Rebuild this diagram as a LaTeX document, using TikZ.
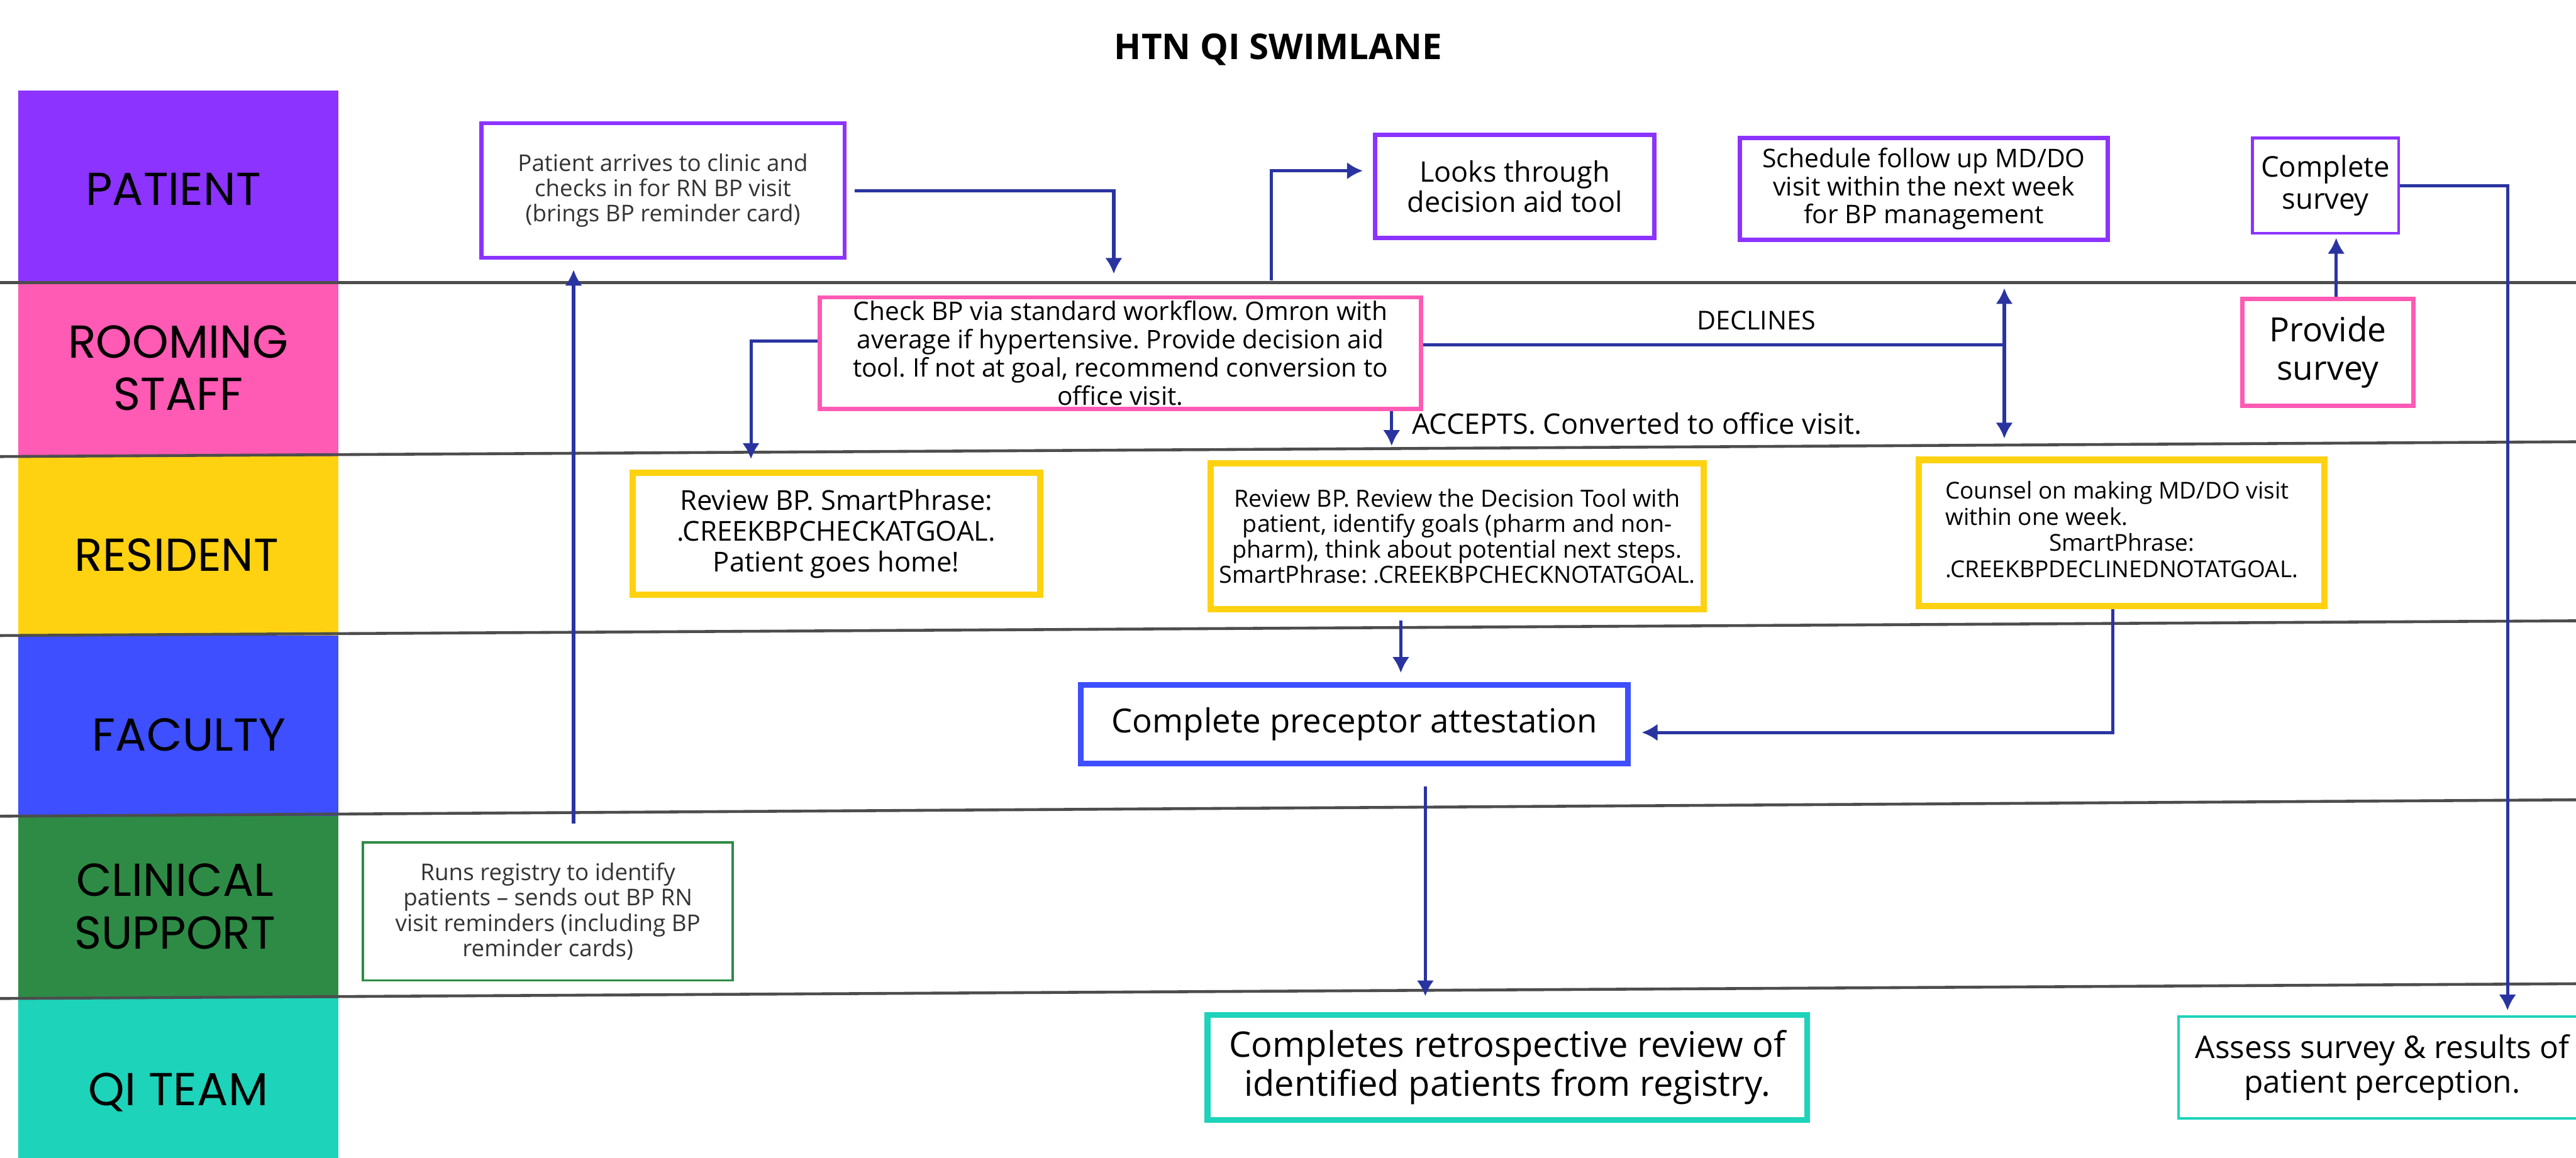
\documentclass[tikz,border=0pt]{standalone}
\usepackage{fontspec}
\setmainfont{Open Sans}
\newfontfamily\lanefont{Poppins}
\usetikzlibrary{calc, arrows.meta}

\definecolor{patientc}{HTML}{8C33FF}
\definecolor{roomc}{HTML}{FF5AB4}
\definecolor{resc}{HTML}{FFD211}
\definecolor{facc}{HTML}{3D4FFF}
\definecolor{clinc}{HTML}{2E8B46}
\definecolor{qic}{HTML}{1DD3BA}
\definecolor{flowc}{HTML}{2A34A0}
\definecolor{lanec}{HTML}{4D4D4D}

\newcommand{\fsz}[2]{\fontsize{#1}{#2}\selectfont}
\frenchspacing

\begin{document}
\begin{tikzpicture}
	\tikzstyle{lane}=[font=\lanefont\fsz{16}{18.2}, align=center, inner sep=0pt]
	\tikzstyle{task}=[rectangle, draw, fill=white, align=center, inner sep=0pt]
	\tikzstyle{flow}=[->, >={Latex[length=5.5pt,width=6pt]}, line width=1.1pt, draw=flowc]
	\tikzstyle{laneline}=[line width=1pt, draw=lanec]

	\useasboundingbox (0,0) rectangle (31.36,-14.1);
	\clip (0,0) rectangle (31.36,-14.1);

	% lane headers
	\fill[patientc] (0.22,-1.10) rectangle (4.12,-3.44);
	\fill[roomc] (0.22,-3.44) rectangle (4.12,-5.56);
	\fill[resc] (0.22,-5.56) rectangle (4.12,-7.74);
	\fill[facc] (0.22,-7.74) rectangle (4.12,-9.94);
	\fill[clinc] (0.22,-9.94) rectangle (4.12,-12.16);
	\fill[qic] (0.22,-12.16) rectangle (4.12,-14.5);

	\node[lane] (lpatient) at (2.11,-2.30) {PATIENT};
	\node[lane] (lrooming) at (2.17,-4.48) {ROOMING\\STAFF};
	\node[lane] (lresident) at (2.15,-6.76) {RESIDENT};
	\node[lane] (lfaculty) at (2.30,-8.95) {FACULTY};
	\node[lane] (lclinical) at (2.13,-11.04) {CLINICAL\\SUPPORT};
	\node[lane] (lqi) at (2.17,-13.30) {QI TEAM};

	\draw[laneline] (0,-3.44) -- (31.36,-3.44);
	\draw[laneline] (0,-5.56) -- (31.36,-5.38);
	\draw[laneline] (0,-7.74) -- (31.36,-7.56);
	\draw[laneline] (0,-9.94) -- (31.36,-9.74);
	\draw[laneline] (0,-12.16) -- (31.36,-11.98);

	\node[font=\bfseries\fsz{12.3}{14}] (title) at (15.56,-0.60) {HTN QI SWIMLANE};

	% patient
	\node[task, draw=patientc, line width=1.4pt, minimum width=4.42cm,
		minimum height=1.64cm, font=\fsz{8}{8.8}, text=black!80] (arrive)
		at (8.07,-2.32) {Patient arrives to clinic and\\checks in for RN BP
		visit\\(brings BP reminder card)};
	\node[task, draw=patientc, line width=1.6pt, minimum width=3.40cm,
		minimum height=1.26cm, font=\fsz{9.8}{10.3}] (aidtool)
		at (18.44,-2.27) {Looks through\\decision aid tool};
	\node[task, draw=patientc, line width=1.6pt, minimum width=4.48cm,
		minimum height=1.24cm, font=\fsz{8.9}{9.7}] (schedule)
		at (23.42,-2.30) {Schedule follow up MD/DO\\visit within the next
		week\\for BP management};
	\node[task, draw=patientc, line width=0.9pt, minimum width=1.78cm,
		minimum height=1.16cm, font=\fsz{9.9}{10.9}] (survey)
		at (28.31,-2.26) {Complete\\survey};

	% rooming staff
	\node[task, draw=roomc, line width=1.4pt, minimum width=7.32cm,
		minimum height=1.36cm, font=\fsz{8.85}{9.8}] (checkbp)
		at (13.64,-4.30) {Check BP via standard workflow. Omron with\\average
		if hypertensive. Provide decision aid\\tool. If not at goal, recommend
		conversion to\\office visit.};
	\node[task, draw=roomc, line width=1.5pt, minimum width=2.08cm,
		minimum height=1.30cm, font=\fsz{11.6}{13.4}] (provide)
		at (28.34,-4.29) {Provide\\survey};

	% resident
	\node[task, draw=resc, line width=2.2pt, minimum width=4.96cm,
		minimum height=1.48cm, font=\fsz{9.5}{10.7}] (atgoal)
		at (10.18,-6.50) {Review BP. SmartPhrase:\\.CREEKBPCHECKATGOAL.\\Patient
		goes home!};
	\node[task, draw=resc, line width=2.2pt, minimum width=6.00cm,
		minimum height=1.78cm, font=\fsz{8.2}{8.8}] (notgoal)
		at (17.74,-6.53) {Review BP. Review the Decision Tool with\\patient,
		identify goals (pharm and non-\\pharm), think about potential next
		steps.\\SmartPhrase: .CREEKBPCHECKNOTATGOAL.};
	\node[task, draw=resc, line width=2.2pt, minimum width=4.94cm,
		minimum height=1.78cm, font=\fsz{8.05}{9.1}] (counsel)
		at (25.83,-6.49) {\begin{tabular}{@{}l@{}}Counsel on making MD/DO
		visit\\within one week.\\\multicolumn{1}{@{}c@{}}{SmartPhrase:}\\
		.CREEKBPDECLINEDNOTATGOAL.\end{tabular}};

	% faculty
	\node[task, draw=facc, line width=2pt, minimum width=6.66cm,
		minimum height=0.96cm, font=\fsz{11.5}{13}] (attest)
		at (16.49,-8.82) {Complete preceptor attestation};

	% clinical support
	\node[task, draw=clinc, line width=0.8pt, minimum width=4.50cm,
		minimum height=1.68cm, font=\fsz{8}{8.8}, text=black!80] (registry)
		at (6.67,-11.10) {Runs registry to identify\\patients -- sends out BP
		RN\\visit reminders (including BP\\reminder cards)};

	% qi team
	\node[task, draw=qic, line width=2.1pt, minimum width=7.30cm,
		minimum height=1.28cm, font=\fsz{12.2}{13.4}] (review)
		at (18.35,-13.00) {Completes retrospective review of\\identified
		patients from registry.};
	\node[task, draw=qic, line width=0.8pt, minimum width=4.96cm,
		minimum height=1.24cm, font=\fsz{10.8}{12}] (assess)
		at (29.00,-13.00) {Assess survey \& results of\\patient perception.};

	\coordinate (acc) at ($(checkbp.south west)!0.948!(checkbp.south east)$);
	\coordinate (dec) at (24.40,-4.20);
	\coordinate (nf) at ($(notgoal.south west)!0.387!(notgoal.south east)$);
	\coordinate (af) at ($(attest.south west)!0.628!(attest.south east)$);
	\coordinate (rf) at ($(registry.north west)!0.569!(registry.north east)$);
	\coordinate (pf) at ([xshift=0.1cm]provide.north);

	\draw [flow, shorten <=0.1cm, shorten >=0.26cm] (arrive.east) -|
	($(checkbp.north west)!0.489!(checkbp.north east)$);
	\draw [flow, shorten <=0.18cm, shorten >=0.12cm]
	($(checkbp.north west)!0.749!(checkbp.north east)$) |-
	([yshift=0.19cm]aidtool.west);
	\draw [flow, shorten >=0.13cm] ([yshift=0.15cm]checkbp.west) -|
	($(atgoal.north west)!0.294!(atgoal.north east)$);
	\draw [flow, shorten >=0.17cm] (acc) -- (acc |- notgoal.north);
	\draw [flow, -] ([yshift=0.1cm]checkbp.east) -- (dec);
	\draw [flow, <->, shorten <=0.56cm, shorten >=0.22cm] (dec |- schedule.south)
	-- (dec |- counsel.north);
	\draw [flow, shorten <=0.1cm, shorten >=0.11cm] (nf) -- (nf |- attest.north);
	\draw [flow, shorten >=0.13cm]
	($(counsel.south west)!0.478!(counsel.south east)$) |-
	([yshift=-0.1cm]attest.east);
	\draw [flow, shorten <=0.24cm, shorten >=0.19cm] (af) -- (af |- review.north);
	\draw [flow, shorten <=0.22cm, shorten >=0.12cm] (rf) -- (rf |- arrive.south);
	\draw [flow, shorten >=0.04cm] (pf) -- (pf |- survey.south);
	\draw [flow, shorten >=0.06cm] (survey.east) -| ($(assess.north west)+(4.02,0)$);

	\node[font=\fsz{9}{10}, inner sep=0pt] (declabel) at (21.38,-3.90) {DECLINES};
	\node[font=\fsz{9.8}{11}, anchor=west, inner sep=0pt] (acclabel)
	at ($(acc)+(0.24,-0.15)$) {ACCEPTS. Converted to office visit.};
\end{tikzpicture}
\end{document}
